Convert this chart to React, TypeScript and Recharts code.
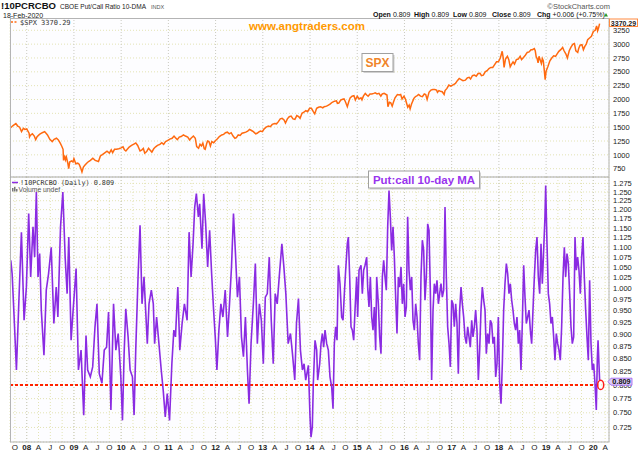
import React from "react";
import { LineChart, Line, XAxis, YAxis, CartesianGrid, ReferenceLine, ReferenceDot } from "recharts";

const X_MIN = 2007.646;
const X_MAX = 2020.332;

const xTicks = [
  2007.75,
  2008, 2008.25, 2008.5, 2008.75, 2009, 2009.25, 2009.5, 2009.75,
  2010, 2010.25, 2010.5, 2010.75, 2011, 2011.25, 2011.5, 2011.75,
  2012, 2012.25, 2012.5, 2012.75, 2013, 2013.25, 2013.5, 2013.75,
  2014, 2014.25, 2014.5, 2014.75, 2015, 2015.25, 2015.5, 2015.75,
  2016, 2016.25, 2016.5, 2016.75, 2017, 2017.25, 2017.5, 2017.75,
  2018, 2018.25, 2018.5, 2018.75, 2019, 2019.25, 2019.5, 2019.75,
  2020, 2020.25,
];
const xTickLabels = [
  "O",
  "08", "A", "J", "O", "09", "A", "J", "O",
  "10", "A", "J", "O", "11", "A", "J", "O",
  "12", "A", "J", "O", "13", "A", "J", "O",
  "14", "A", "J", "O", "15", "A", "J", "O",
  "16", "A", "J", "O", "17", "A", "J", "O",
  "18", "A", "J", "O", "19", "A", "J", "O",
  "20", "A",
];
const yearLines = [2008, 2009, 2010, 2011, 2012, 2013, 2014, 2015, 2016, 2017, 2018, 2019, 2020];

const spxTicks = [750, 1000, 1250, 1500, 1750, 2000, 2250, 2500, 2750, 3000, 3250];
const pcTicks = [
  0.725, 0.75, 0.775, 0.8, 0.825, 0.85, 0.875, 0.9, 0.925, 0.95, 0.975, 1.0,
  1.025, 1.05, 1.075, 1.1, 1.125, 1.15, 1.175, 1.2, 1.225, 1.25, 1.275,
];

// S&P 500 ($SPX) [decimal year, close]
const spx2007 = [[2007.66, 1490], [2007.71, 1530], [2007.77, 1565], [2007.81, 1520], [2007.85, 1500], [2007.89, 1420], [2007.93, 1480], [2007.96, 1460]];
const spx2008 = [[2008.0, 1468], [2008.05, 1390], [2008.06, 1325], [2008.08, 1355], [2008.12, 1380], [2008.16, 1340], [2008.19, 1275], [2008.22, 1330], [2008.27, 1370], [2008.33, 1400], [2008.38, 1420], [2008.44, 1360], [2008.49, 1280], [2008.54, 1240], [2008.58, 1280], [2008.63, 1300], [2008.67, 1270], [2008.71, 1210], [2008.74, 1160], [2008.77, 1100], [2008.78, 900], [2008.8, 990], [2008.82, 910], [2008.84, 960], [2008.87, 850], [2008.89, 752], [2008.91, 870], [2008.95, 890], [2008.98, 870]];
const spx2009 = [[2009.0, 930], [2009.04, 840], [2009.08, 850], [2009.11, 830], [2009.14, 770], [2009.17, 690], [2009.2, 780], [2009.24, 820], [2009.27, 850], [2009.31, 880], [2009.35, 900], [2009.4, 940], [2009.45, 900], [2009.52, 880], [2009.56, 980], [2009.61, 1010], [2009.66, 1040], [2009.7, 1065], [2009.75, 1030], [2009.79, 1090], [2009.82, 1040], [2009.86, 1100], [2009.9, 1100], [2009.95, 1110]];
const spx2010 = [[2010.0, 1125], [2010.04, 1145], [2010.07, 1090], [2010.1, 1070], [2010.13, 1100], [2010.17, 1140], [2010.22, 1170], [2010.27, 1195], [2010.31, 1215], [2010.35, 1170], [2010.38, 1110], [2010.4, 1070], [2010.44, 1090], [2010.47, 1115], [2010.5, 1030], [2010.54, 1060], [2010.58, 1120], [2010.62, 1080], [2010.65, 1050], [2010.69, 1110], [2010.73, 1145], [2010.77, 1170], [2010.82, 1190], [2010.86, 1220], [2010.9, 1190], [2010.94, 1240], [2010.98, 1258]];
const spx2011 = [[2011.03, 1285], [2011.08, 1300], [2011.12, 1340], [2011.15, 1310], [2011.19, 1275], [2011.23, 1320], [2011.27, 1330], [2011.32, 1360], [2011.36, 1340], [2011.41, 1320], [2011.45, 1270], [2011.48, 1300], [2011.53, 1340], [2011.57, 1300], [2011.6, 1150], [2011.64, 1120], [2011.67, 1190], [2011.7, 1160], [2011.73, 1210], [2011.76, 1110], [2011.78, 1100], [2011.81, 1200], [2011.83, 1250], [2011.86, 1240], [2011.89, 1160], [2011.92, 1240], [2011.96, 1220]];
const spx2012 = [[2012.0, 1260], [2012.04, 1290], [2012.08, 1330], [2012.13, 1360], [2012.17, 1370], [2012.21, 1400], [2012.25, 1410], [2012.29, 1380], [2012.33, 1400], [2012.37, 1340], [2012.41, 1300], [2012.44, 1310], [2012.48, 1360], [2012.52, 1350], [2012.56, 1390], [2012.6, 1400], [2012.64, 1410], [2012.68, 1430], [2012.72, 1460], [2012.76, 1440], [2012.8, 1420], [2012.85, 1380], [2012.88, 1390], [2012.91, 1410], [2012.95, 1430], [2012.99, 1420]];
const spx2013 = [[2013.03, 1470], [2013.07, 1500], [2013.12, 1520], [2013.16, 1510], [2013.2, 1550], [2013.25, 1565], [2013.29, 1560], [2013.33, 1600], [2013.37, 1650], [2013.41, 1660], [2013.45, 1630], [2013.48, 1575], [2013.52, 1650], [2013.56, 1690], [2013.6, 1700], [2013.64, 1650], [2013.68, 1640], [2013.72, 1710], [2013.76, 1690], [2013.79, 1660], [2013.83, 1750], [2013.87, 1770], [2013.91, 1800], [2013.95, 1780], [2013.99, 1840]];
const spx2014 = [[2014.03, 1840], [2014.07, 1780], [2014.1, 1740], [2014.14, 1840], [2014.18, 1860], [2014.22, 1870], [2014.27, 1850], [2014.3, 1870], [2014.35, 1880], [2014.39, 1900], [2014.43, 1920], [2014.47, 1950], [2014.52, 1970], [2014.56, 1975], [2014.58, 1930], [2014.61, 1935], [2014.65, 1990], [2014.69, 2005], [2014.72, 2010], [2014.75, 1960], [2014.79, 1870], [2014.82, 1960], [2014.85, 2030], [2014.89, 2060], [2014.93, 2070], [2014.96, 1990]];
const spx2015 = [[2015.0, 2060], [2015.04, 2010], [2015.08, 2030], [2015.1, 1995], [2015.13, 2060], [2015.17, 2110], [2015.2, 2080], [2015.23, 2060], [2015.27, 2100], [2015.31, 2100], [2015.35, 2110], [2015.38, 2120], [2015.42, 2100], [2015.46, 2110], [2015.5, 2060], [2015.53, 2100], [2015.57, 2110], [2015.61, 2090], [2015.63, 2080], [2015.65, 1870], [2015.68, 1950], [2015.71, 1940], [2015.74, 1880], [2015.77, 1960], [2015.8, 2030], [2015.85, 2090], [2015.89, 2080], [2015.92, 2090], [2015.95, 2010], [2015.99, 2060]];
const spx2016 = [[2016.02, 2010], [2016.05, 1920], [2016.07, 1860], [2016.1, 1900], [2016.12, 1830], [2016.15, 1920], [2016.2, 2020], [2016.23, 2050], [2016.27, 2070], [2016.3, 2090], [2016.34, 2060], [2016.38, 2050], [2016.42, 2100], [2016.45, 2090], [2016.48, 2000], [2016.52, 2130], [2016.56, 2170], [2016.6, 2180], [2016.64, 2180], [2016.68, 2170], [2016.7, 2130], [2016.73, 2160], [2016.76, 2150], [2016.8, 2140], [2016.84, 2090], [2016.86, 2160], [2016.9, 2200], [2016.94, 2260], [2016.98, 2240]];
const spx2017 = [[2017.04, 2270], [2017.08, 2290], [2017.12, 2340], [2017.16, 2380], [2017.2, 2360], [2017.24, 2340], [2017.29, 2350], [2017.33, 2390], [2017.37, 2400], [2017.4, 2370], [2017.44, 2430], [2017.48, 2440], [2017.52, 2420], [2017.56, 2470], [2017.6, 2475], [2017.63, 2430], [2017.67, 2440], [2017.71, 2500], [2017.75, 2520], [2017.79, 2560], [2017.83, 2580], [2017.87, 2580], [2017.91, 2630], [2017.95, 2680], [2017.99, 2680]];
const spx2018 = [[2018.03, 2750], [2018.07, 2870], [2018.09, 2760], [2018.11, 2580], [2018.14, 2730], [2018.18, 2780], [2018.21, 2720], [2018.24, 2590], [2018.27, 2640], [2018.3, 2680], [2018.33, 2640], [2018.37, 2720], [2018.41, 2730], [2018.45, 2780], [2018.48, 2720], [2018.52, 2760], [2018.56, 2800], [2018.6, 2850], [2018.64, 2860], [2018.68, 2900], [2018.71, 2900], [2018.75, 2920], [2018.77, 2880], [2018.79, 2770], [2018.81, 2740], [2018.83, 2660], [2018.85, 2780], [2018.88, 2700], [2018.9, 2650], [2018.92, 2740], [2018.94, 2700], [2018.96, 2540], [2018.98, 2360]];
const spx2019 = [[2019.0, 2510], [2019.04, 2600], [2019.08, 2700], [2019.12, 2750], [2019.16, 2790], [2019.2, 2780], [2019.23, 2820], [2019.27, 2870], [2019.31, 2900], [2019.35, 2940], [2019.38, 2880], [2019.42, 2820], [2019.45, 2750], [2019.49, 2880], [2019.53, 2950], [2019.57, 3000], [2019.6, 3010], [2019.63, 2880], [2019.67, 2850], [2019.69, 2920], [2019.72, 2980], [2019.76, 2990], [2019.79, 2900], [2019.82, 2960], [2019.85, 3000], [2019.88, 3080], [2019.92, 3110], [2019.96, 3140]];
const spx2020 = [[2020.0, 3230], [2020.04, 3250], [2020.07, 3330], [2020.09, 3240], [2020.11, 3290], [2020.133, 3370.29]];

// CBOE Put/Call ratio, 10-day moving average [decimal year, ratio]
const pc2007 = [[2007.663, 1.067], [2007.691, 1.035], [2007.733, 0.936], [2007.782, 0.828], [2007.832, 0.965], [2007.888, 1.139], [2007.944, 0.929], [2007.993, 1.003]];
const pc2008 = [[2008.042, 1.189], [2008.084, 1.027], [2008.133, 1.153], [2008.168, 1.075], [2008.204, 1.25], [2008.239, 1.027], [2008.274, 1.084], [2008.309, 0.951], [2008.365, 0.857], [2008.414, 0.996], [2008.463, 1.035], [2008.519, 1.1], [2008.575, 0.922], [2008.625, 1.003], [2008.66, 0.936], [2008.716, 1.153], [2008.765, 1.25], [2008.814, 1.075], [2008.856, 0.988], [2008.891, 1.126], [2008.94, 0.887], [2008.983, 0.951]];
const pc2009 = [[2009.046, 1.047], [2009.095, 0.828], [2009.151, 0.867], [2009.207, 0.746], [2009.256, 0.897], [2009.291, 0.828], [2009.347, 0.815], [2009.397, 0.834], [2009.446, 0.915], [2009.488, 0.965], [2009.537, 0.821], [2009.593, 0.803], [2009.642, 0.867], [2009.691, 0.873], [2009.733, 0.947], [2009.783, 0.755], [2009.839, 0.965], [2009.888, 0.867], [2009.937, 0.901], [2009.993, 0.815]];
const pc2010 = [[2010.028, 0.737], [2010.063, 0.86], [2010.098, 0.954], [2010.147, 0.894], [2010.19, 0.828], [2010.239, 0.815], [2010.274, 0.746], [2010.309, 0.867], [2010.358, 1.027], [2010.4, 1.157], [2010.442, 0.965], [2010.484, 1.027], [2010.519, 0.951], [2010.554, 0.88], [2010.59, 0.965], [2010.639, 0.996], [2010.681, 0.965], [2010.709, 0.88], [2010.751, 0.936], [2010.8, 0.88], [2010.849, 0.828], [2010.891, 0.79], [2010.934, 0.743], [2010.976, 0.784]];
const pc2011 = [[2011.025, 0.737], [2011.074, 0.84], [2011.116, 0.908], [2011.151, 0.894], [2011.2, 1.003], [2011.242, 0.867], [2011.291, 0.922], [2011.34, 0.965], [2011.397, 0.929], [2011.439, 1.139], [2011.481, 1.027], [2011.523, 1.109], [2011.558, 1.207], [2011.593, 1.245], [2011.635, 1.18], [2011.663, 1.216], [2011.712, 1.096], [2011.748, 1.245], [2011.79, 1.161], [2011.832, 1.051], [2011.874, 1.144], [2011.916, 1.035], [2011.958, 0.951], [2011.993, 0.894]];
const pc2012 = [[2012.028, 0.828], [2012.07, 0.908], [2012.112, 0.965], [2012.155, 0.936], [2012.204, 0.996], [2012.253, 0.894], [2012.295, 0.965], [2012.337, 1.051], [2012.379, 1.189], [2012.421, 1.084], [2012.463, 0.98], [2012.505, 1.027], [2012.548, 0.894], [2012.59, 0.854], [2012.632, 0.936], [2012.674, 0.828], [2012.709, 0.766], [2012.751, 0.88], [2012.8, 0.965], [2012.842, 1.059], [2012.884, 0.88], [2012.927, 0.965], [2012.969, 0.929]];
const pc2013 = [[2013.011, 0.84], [2013.053, 0.98], [2013.095, 0.988], [2013.137, 1.075], [2013.179, 0.929], [2013.221, 0.84], [2013.263, 0.988], [2013.305, 0.965], [2013.348, 1.027], [2013.404, 1.109], [2013.446, 1.051], [2013.488, 0.988], [2013.537, 0.88], [2013.586, 0.901], [2013.628, 0.86], [2013.677, 0.809], [2013.713, 0.922], [2013.755, 0.977], [2013.797, 0.867], [2013.839, 0.828], [2013.874, 0.84], [2013.909, 0.809], [2013.965, 0.837]];
const pc2014 = [[2014.0, 0.743], [2014.021, 0.709], [2014.049, 0.726], [2014.07, 0.803], [2014.106, 0.887], [2014.141, 0.867], [2014.162, 0.809], [2014.205, 0.84], [2014.233, 0.88], [2014.261, 0.901], [2014.289, 0.873], [2014.318, 0.908], [2014.353, 0.88], [2014.388, 0.867], [2014.423, 0.815], [2014.459, 0.796], [2014.487, 0.757], [2014.515, 0.88], [2014.543, 0.915], [2014.572, 0.887], [2014.6, 1.055], [2014.635, 1.011], [2014.67, 0.936], [2014.699, 0.929], [2014.727, 0.988], [2014.755, 1.043], [2014.79, 1.109], [2014.812, 1.126], [2014.84, 1.027], [2014.868, 0.915], [2014.896, 0.908], [2014.925, 0.887], [2014.953, 0.951], [2014.988, 1.027]];
const pc2015 = [[2015.009, 0.936], [2015.038, 1.043], [2015.08, 1.055], [2015.108, 0.988], [2015.136, 1.043], [2015.165, 1.055], [2015.2, 1.075], [2015.221, 1.003], [2015.249, 0.958], [2015.278, 1.027], [2015.306, 0.936], [2015.334, 0.908], [2015.362, 0.958], [2015.39, 0.867], [2015.412, 1.027], [2015.447, 0.965], [2015.475, 0.894], [2015.503, 0.86], [2015.532, 1.027], [2015.56, 1.067], [2015.588, 1.027], [2015.616, 0.996], [2015.645, 1.153], [2015.673, 1.254], [2015.701, 1.18], [2015.729, 1.092], [2015.758, 1.153], [2015.786, 1.075], [2015.814, 0.98], [2015.842, 0.901], [2015.871, 1.027], [2015.899, 1.003], [2015.927, 1.051], [2015.955, 0.965], [2015.983, 1.011]];
const pc2016 = [[2016.012, 0.936], [2016.04, 0.958], [2016.068, 1.18], [2016.096, 1.043], [2016.125, 0.996], [2016.153, 1.027], [2016.181, 0.929], [2016.209, 0.908], [2016.238, 0.965], [2016.266, 0.936], [2016.294, 0.88], [2016.322, 0.847], [2016.35, 1.027], [2016.379, 1.118], [2016.407, 1.092], [2016.435, 0.973], [2016.463, 1.027], [2016.492, 1.161], [2016.52, 1.144], [2016.548, 0.996], [2016.576, 0.809], [2016.605, 0.951], [2016.633, 1.011], [2016.661, 0.988], [2016.689, 1.019], [2016.718, 0.965], [2016.746, 0.988], [2016.774, 1.011], [2016.802, 0.98], [2016.831, 0.996], [2016.859, 1.207], [2016.887, 1.027], [2016.915, 0.915], [2016.944, 0.88], [2016.972, 0.834]];
const pc2017 = [[2017.0, 0.973], [2017.028, 0.965], [2017.056, 0.915], [2017.085, 0.965], [2017.113, 0.922], [2017.141, 0.821], [2017.169, 0.951], [2017.198, 1.003], [2017.226, 0.965], [2017.254, 0.936], [2017.282, 0.894], [2017.311, 0.88], [2017.339, 0.915], [2017.367, 0.894], [2017.395, 0.873], [2017.424, 0.929], [2017.452, 0.894], [2017.48, 0.915], [2017.508, 0.951], [2017.536, 0.908], [2017.565, 0.809], [2017.593, 0.867], [2017.621, 0.951], [2017.649, 1.003], [2017.678, 0.973], [2017.706, 0.951], [2017.734, 0.86], [2017.762, 0.901], [2017.791, 0.88], [2017.819, 0.929], [2017.847, 0.922], [2017.875, 0.88], [2017.904, 0.894], [2017.932, 0.815], [2017.96, 0.84], [2017.988, 0.936]];
const pc2018 = [[2018.016, 0.803], [2018.045, 0.766], [2018.073, 0.84], [2018.101, 0.951], [2018.129, 1.011], [2018.158, 1.059], [2018.186, 1.035], [2018.214, 0.988], [2018.242, 1.011], [2018.271, 0.973], [2018.299, 0.951], [2018.327, 0.922], [2018.355, 0.908], [2018.383, 0.936], [2018.412, 0.88], [2018.44, 0.908], [2018.468, 0.828], [2018.496, 0.922], [2018.525, 1.055], [2018.553, 0.98], [2018.581, 0.922], [2018.609, 0.936], [2018.638, 0.951], [2018.666, 0.908], [2018.694, 0.88], [2018.722, 0.951], [2018.751, 1.027], [2018.779, 1.092], [2018.807, 1.126], [2018.835, 1.027], [2018.864, 0.988], [2018.892, 1.109], [2018.92, 1.011], [2018.948, 1.092], [2018.976, 1.18], [2018.991, 1.269]];
const pc2019 = [[2019.019, 1.109], [2019.047, 0.988], [2019.075, 0.965], [2019.103, 0.922], [2019.132, 0.936], [2019.16, 0.894], [2019.188, 0.847], [2019.216, 0.901], [2019.245, 0.88], [2019.273, 0.867], [2019.301, 0.847], [2019.329, 0.915], [2019.358, 1.027], [2019.386, 1.1], [2019.414, 1.027], [2019.442, 1.084], [2019.471, 1.059], [2019.499, 0.988], [2019.527, 0.915], [2019.555, 0.88], [2019.584, 0.894], [2019.612, 1.126], [2019.64, 1.043], [2019.668, 1.075], [2019.696, 1.043], [2019.725, 0.988], [2019.753, 1.075], [2019.781, 1.126], [2019.809, 1.027], [2019.838, 0.951], [2019.866, 0.894], [2019.894, 0.847], [2019.922, 1.019], [2019.951, 0.88], [2019.979, 0.828]];
const pc2020 = [[2020.007, 0.84], [2020.035, 0.803], [2020.063, 0.755], [2020.085, 0.85], [2020.1, 0.887], [2020.133, 0.809]];

const THRESHOLD = 0.8;
const LAST_DATE = 2020.133;

const spxData = [spx2007, spx2008, spx2009, spx2010, spx2011, spx2012, spx2013, spx2014, spx2015, spx2016, spx2017, spx2018, spx2019, spx2020]
  .flat()
  .map(([t, v]) => ({ t, v }));
const pcData = [pc2007, pc2008, pc2009, pc2010, pc2011, pc2012, pc2013, pc2014, pc2015, pc2016, pc2017, pc2018, pc2019, pc2020]
  .flat()
  .map(([t, v]) => ({ t, v }));

const FONT = "'Liberation Sans', Arial, sans-serif";
const MONO = "'DejaVu Sans Mono', monospace";
const GRID = "#e3e3b4";
const YEARGRID = "#c9c9c0";
const ORANGE = "#ff6a10";
const PURPLE = "#8a2be2";

const XTick = (props: any) => {
  const { x, y, payload } = props;
  const i = xTicks.indexOf(payload.value);
  const label = i >= 0 ? xTickLabels[i] : "";
  const bold = Number.isInteger(payload.value);
  return (
    <text x={x} y={y + 7.5} textAnchor="middle" fontSize={8} fontWeight={bold ? 700 : 400} fill="#222" fontFamily={FONT}>
      {label}
    </text>
  );
};

const yTickStyle = { fontSize: 7.5, fill: "#222", fontFamily: FONT };

function Overlay() {
  return (
    <svg width={640} height={453} style={{ position: "absolute", left: 0, top: 0, pointerEvents: "none" }}>
      {/* frame */}
      <rect x={10.5} y={18.5} width={598.5} height={423.5} fill="none" stroke="#b4b4b4" strokeWidth={1} />
      <line x1={10} x2={609} y1={177} y2={177} stroke="#a8a8a8" strokeWidth={1} />

      {/* header */}
      <text x={1} y={9.3} fontSize={9.5} fontWeight={700} fill="#111" fontFamily={FONT} textLength={55} lengthAdjust="spacingAndGlyphs">!10PCRCBO</text>
      <text x={60} y={9} fontSize={7} fill="#222" fontFamily={FONT} textLength={86} lengthAdjust="spacingAndGlyphs">CBOE Put/Call Ratio 10-DMA</text>
      <text x={151} y={9} fontSize={5.5} fill="#555" fontFamily={FONT}>INDX</text>
      <text x={3} y={18} fontSize={7} fill="#222" fontFamily={FONT}>18-Feb-2020</text>
      <text x={610} y={8.5} textAnchor="end" fontSize={7.5} fill="#555" fontFamily={FONT}>©StockCharts.com</text>
      <text y={17.3} fontSize={7} fill="#111" fontFamily={FONT}>
        <tspan x={373} fontWeight={700}>Open</tspan>
        <tspan dx={2}>0.809</tspan>
        <tspan x={414} fontWeight={700}>High</tspan>
        <tspan dx={2}>0.809</tspan>
        <tspan x={453} fontWeight={700}>Low</tspan>
        <tspan dx={2}>0.809</tspan>
        <tspan x={492} fontWeight={700}>Close</tspan>
        <tspan dx={2}>0.809</tspan>
        <tspan x={537} fontWeight={700}>Chg</tspan>
        <tspan dx={2}>+0.006 (+0.75%)</tspan>
      </text>
      <polygon points="604,16.5 608,16.5 606,13" fill="#2a9a2a" />

      {/* upper legend */}
      <line x1={11} x2={13} y1={22} y2={22} stroke={ORANGE} strokeWidth={1.5} />
      <line x1={14.5} x2={16.5} y1={22} y2={22} stroke={ORANGE} strokeWidth={1.5} />
      <text x={20} y={24.5} fontSize={7} fill="#333" fontFamily={MONO}>$SPX 3370.29</text>

      <text x={249} y={29.5} fontSize={11.5} fontWeight={700} fill="#ff9900" fontFamily={FONT}>www.angtraders.com</text>

      {/* SPX box */}
      <rect x={363.5} y={55} width={31} height={18} fill="#d0d0d0" />
      <rect x={362} y={53.5} width={31} height={18} fill="#fff" stroke="#a0a0a0" />
      <text x={377.5} y={67} textAnchor="middle" fontSize={12} fontWeight={700} fill="#f0852a" fontFamily={FONT}>SPX</text>

      {/* price box for SPX */}
      <rect x={609.5} y={19} width={28} height={7.5} fill="#fff" stroke="#ff8a40" strokeWidth={1} />
      <text x={623.5} y={25.5} textAnchor="middle" fontSize={7} fontWeight={700} fill="#222" fontFamily={FONT}>3370.29</text>

      {/* lower legend */}
      <line x1={12} x2={18} y1={182.5} y2={182.5} stroke={PURPLE} strokeWidth={1.5} />
      <text x={20} y={185} fontSize={6.8} fill="#333" fontFamily={MONO}>!10PCRCBO (Daily) 0.809</text>
      <rect x={12} y={188} width={1.5} height={3.5} fill="#777" />
      <rect x={14} y={187} width={1.5} height={4.5} fill="#777" />
      <rect x={16} y={189} width={1.5} height={2.5} fill="#777" />
      <text x={18.5} y={192} fontSize={6.8} fill="#555" fontFamily={FONT}>Volume undef</text>

      {/* Put:call box */}
      <rect x={370} y={172.5} width={111} height={17} fill="#d0d0d0" />
      <rect x={368.5} y={171} width={111} height={17} fill="#fff" stroke="#a0a0a0" />
      <text x={424} y={184} textAnchor="middle" fontSize={11.5} fontWeight={700} fill="#9933ee" fontFamily={FONT}>Put:call 10-day MA</text>

      {/* price box for ratio */}
      <polygon points="608,381.7 611,378.2 632,378.2 632,385.2 611,385.2" fill="#dcccfa" stroke="#9a5af0" strokeWidth={0.8} />
      <text x={621.5} y={384.3} textAnchor="middle" fontSize={7.3} fontWeight={700} fill="#111" fontFamily={FONT}>0.809</text>
    </svg>
  );
}

export default function App() {
  return (
    <div style={{ position: "absolute", left: 0, top: 0, width: 640, height: 453, background: "#fff", overflow: "hidden" }}>
      <div style={{ position: "absolute", left: 0, top: 0 }}>
        <LineChart width={640} height={177} data={spxData} margin={{ top: 18.5, right: 0, bottom: 0, left: 10 }}>
          <CartesianGrid stroke={GRID} strokeDasharray="1 2" fill="#fdfdff" />
          <XAxis dataKey="t" type="number" domain={[X_MIN, X_MAX]} ticks={xTicks} allowDataOverflow height={0} tick={false} tickLine={false} axisLine={false} interval={0} />
          <YAxis orientation="right" width={31} domain={[600, 3463]} ticks={spxTicks} allowDataOverflow interval={0} tick={yTickStyle} tickLine={false} axisLine={false} tickSize={0} tickMargin={4} />
          {yearLines.map((y) => (
            <ReferenceLine key={y} x={y} stroke={YEARGRID} strokeDasharray="1 2" />
          ))}
          <Line dataKey="v" type="linear" stroke={ORANGE} strokeWidth={1.5} dot={false} isAnimationActive={false} />
        </LineChart>
      </div>
      <div style={{ position: "absolute", left: 0, top: 177 }}>
        <LineChart width={640} height={276} data={pcData} margin={{ top: 0, right: 0, bottom: 0, left: 10 }}>
          <CartesianGrid stroke={GRID} strokeDasharray="1 2" fill="#fdfdff" />
          <XAxis dataKey="t" type="number" domain={[X_MIN, X_MAX]} ticks={xTicks} allowDataOverflow height={11} tick={<XTick />} tickLine={false} axisLine={false} tickSize={0} tickMargin={0} interval={0} />
          <YAxis orientation="right" width={31} scale="log" domain={[0.701, 1.294]} ticks={pcTicks} allowDataOverflow interval={0} tick={yTickStyle} tickFormatter={(v: number) => v.toFixed(3)} tickLine={false} axisLine={false} tickSize={0} tickMargin={4} />
          {yearLines.map((y) => (
            <ReferenceLine key={y} x={y} stroke={YEARGRID} strokeDasharray="1 2" />
          ))}
          <ReferenceLine segment={[{ x: X_MIN, y: THRESHOLD }, { x: LAST_DATE - 0.01, y: THRESHOLD }]} stroke="#ff2200" strokeWidth={2} strokeDasharray="3 2" ifOverflow="visible" />
          <Line dataKey="v" type="linear" stroke={PURPLE} strokeWidth={1.6} dot={false} isAnimationActive={false} />
          <ReferenceDot x={LAST_DATE + 0.023} y={THRESHOLD} ifOverflow="visible" shape={(p: any) => <ellipse cx={p.cx} cy={p.cy} rx={3} ry={4.7} fill="none" stroke="#ff1a1a" strokeWidth={1.5} />} />
        </LineChart>
      </div>
      <Overlay />
    </div>
  );
}
